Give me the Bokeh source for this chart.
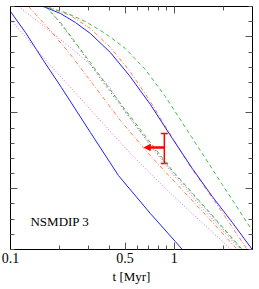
from bokeh.plotting import figure
from bokeh.models import (FixedTicker, LogAxis, LinearAxis, Range1d, Whisker,
                          TeeHead, Arrow, NormalHead, ColumnDataSource, NumeralTickFormatter)
from bokeh.core.properties import value
from bokeh.embed import file_html
from bokeh.resources import INLINE

# ---- axis ticks ----
x_major = [0.1, 0.5, 1.0]
x_minor = [0.2, 0.3, 0.4, 0.6, 0.7, 0.8, 0.9, 2.0, 3.0]
y_major = [0.0, 1.0, 2.0]
y_minor = [-0.8, -0.6, -0.4, -0.2, 0.2, 0.4, 0.6, 0.8, 1.2, 1.4, 1.6, 1.8, 2.2, 2.4]

# ---- curves (t in Myr, y arbitrary log units) ----
blueA_t = [0.100, 0.1234, 0.1589, 0.2046, 0.3075, 0.4556, 0.7139, 1.0142, 1.1189]
blueA_y = [2.334, 2.058, 1.689, 1.333, 0.741, 0.175, -0.326, -0.695, -0.800]

blueB_t = [0.1589, 0.2018, 0.2491, 0.3075, 0.4072, 0.5316, 0.7139, 0.9723, 1.2875, 1.7050, 2.2577, 2.9895]
blueB_y = [2.400, 2.308, 2.189, 2.044, 1.794, 1.491, 1.110, 0.662, 0.267, -0.102, -0.444, -0.800]

greenC_t = [0.1567, 0.2165, 0.2866, 0.3796, 0.5026, 0.6655, 0.8813, 1.2695, 1.9619, 2.9895]
greenC_y = [2.400, 2.321, 2.202, 2.044, 1.847, 1.570, 1.215, 0.688, 0.056, -0.550]

orangeD_t = [0.1681, 0.2322, 0.3075, 0.4072, 0.5316, 0.7139, 0.9454, 1.2517, 1.8548, 2.7868]
orangeD_y = [2.400, 2.281, 2.110, 1.860, 1.557, 1.149, 0.714, 0.293, -0.234, -0.800]

orangeE_t = [0.1288, 0.1753, 0.2322, 0.3162, 0.4685, 0.6941, 1.0142, 1.5454, 2.4218]
orangeE_y = [2.400, 2.084, 1.768, 1.386, 0.899, 0.464, 0.082, -0.339, -0.800]

greenF_t = [0.1635, 0.2018, 0.2491, 0.3075, 0.3796, 0.5391, 0.7139, 0.9723, 1.5454, 2.5979]
greenF_y = [2.400, 2.189, 1.926, 1.663, 1.386, 0.951, 0.609, 0.240, -0.247, -0.800]

gray_t = [0.1658, 0.2018, 0.2491, 0.3075, 0.3796, 0.5391, 0.7139, 0.9723, 1.5454, 2.5617]
gray_y = [2.400, 2.176, 1.913, 1.636, 1.360, 0.925, 0.583, 0.227, -0.260, -0.800]

pinkU_t = [0.1119, 0.1524, 0.2165, 0.3075, 0.4072, 0.5391, 0.7139, 0.9723, 1.5454, 2.5260]
pinkU_y = [2.400, 2.176, 1.913, 1.636, 1.320, 0.925, 0.570, 0.200, -0.300, -0.800]

pinkL_t = [0.100, 0.1324, 0.1753, 0.2388, 0.3075, 0.4072, 0.5316, 0.8216, 1.3429, 2.2262]
pinkL_y = [2.229, 1.926, 1.623, 1.307, 1.044, 0.754, 0.477, 0.069, -0.365, -0.800]

# ---- observational constraint ----
obs_t = [0.869]
obs_lo = [0.333]
obs_hi = [0.728]
obs_y = 0.543
obs_arrow_t = 0.656

# ---- panel label ----
panel_text = ["NSMDIP 3"]
panel_t = [0.1324]
panel_y = [-0.426]

SERIF = "Liberation Serif"

p = figure(frame_width=242, frame_height=243, x_axis_type="log",
           x_range=Range1d(0.1, 3.0), y_range=Range1d(-0.8, 2.4),
           output_backend="svg", toolbar_location=None,
           min_border_left=10, min_border_right=5, min_border_top=6, min_border_bottom=0)
p.grid.visible = False
p.outline_line_color = "black"
p.outline_line_width = 1
p.background_fill_color = "white"
p.border_fill_color = "white"


def style(ax):
    ax.major_tick_in = 7
    ax.major_tick_out = 0
    ax.minor_tick_in = 4
    ax.minor_tick_out = 0
    ax.major_tick_line_color = "#555555"
    ax.minor_tick_line_color = "#555555"
    ax.axis_line_color = "black"


def hide_labels(ax, ticks):
    ax.major_label_overrides = {t: "" for t in ticks}
    ax.major_label_text_font_size = "0px"
    ax.major_label_standoff = 0


xa = p.xaxis[0]
xa.ticker = FixedTicker(ticks=x_major, minor_ticks=x_minor)
xa.formatter = NumeralTickFormatter(format="0.[0]")
xa.major_label_text_font = SERIF
xa.major_label_text_font_size = "14px"
xa.major_label_text_color = "black"
xa.major_label_standoff = 3
xa.axis_label = "t [Myr]"
xa.axis_label_text_font = SERIF
xa.axis_label_text_font_size = "13px"
xa.axis_label_text_font_style = "normal"
xa.axis_label_text_color = "black"
xa.axis_label_standoff = 3
style(xa)

ya = p.yaxis[0]
ya.ticker = FixedTicker(ticks=y_major, minor_ticks=y_minor)
hide_labels(ya, y_major)
style(ya)

top = LogAxis(ticker=FixedTicker(ticks=x_major, minor_ticks=x_minor))
hide_labels(top, x_major)
style(top)
p.add_layout(top, "above")

right = LinearAxis(ticker=FixedTicker(ticks=y_major, minor_ticks=y_minor))
hide_labels(right, y_major)
style(right)
p.add_layout(right, "right")

BLUE = "#2020ff"
GREEN = "#44bb44"
ORANGE = "#ff7f45"
PINK = "#dd66dd"

p.line(blueA_t, blueA_y, line_color=BLUE, line_width=1)
p.line(pinkL_t, pinkL_y, line_color=PINK, line_width=1, line_dash="1 2")
p.line(pinkU_t, pinkU_y, line_color=PINK, line_width=1, line_dash="1 2")
p.line(orangeE_t, orangeE_y, line_color=ORANGE, line_width=1, line_dash="4 2 1 2")
p.line(gray_t, gray_y, line_color="#555555", line_width=1, line_dash="1 3")
p.line(greenF_t, greenF_y, line_color=GREEN, line_width=1, line_dash="4 3")
p.line(orangeD_t, orangeD_y, line_color=ORANGE, line_width=1, line_dash="4 2 1 2")
p.line(blueB_t, blueB_y, line_color=BLUE, line_width=1)
p.line(greenC_t, greenC_y, line_color=GREEN, line_width=1, line_dash="4 3")

src = ColumnDataSource(dict(base=obs_t, lower=obs_lo, upper=obs_hi))
p.add_layout(Whisker(base="base", lower="lower", upper="upper", source=src,
                     dimension="height", line_color="red", line_width=1.5,
                     upper_head=TeeHead(size=7, line_color="red", line_width=1.5),
                     lower_head=TeeHead(size=7, line_color="red", line_width=1.5)))
p.add_layout(Arrow(end=NormalHead(size=6, fill_color="red", line_color="red"),
                   x_start=obs_t[0], y_start=obs_y, x_end=obs_arrow_t, y_end=obs_y,
                   line_color="red", line_width=2.5))

p.text(x=panel_t, y=panel_y, text=panel_text, text_font=value(SERIF),
       text_font_size="13px", text_baseline="middle", text_align="left",
       text_color="black")

open("out.html", "w").write(file_html(p, INLINE))
